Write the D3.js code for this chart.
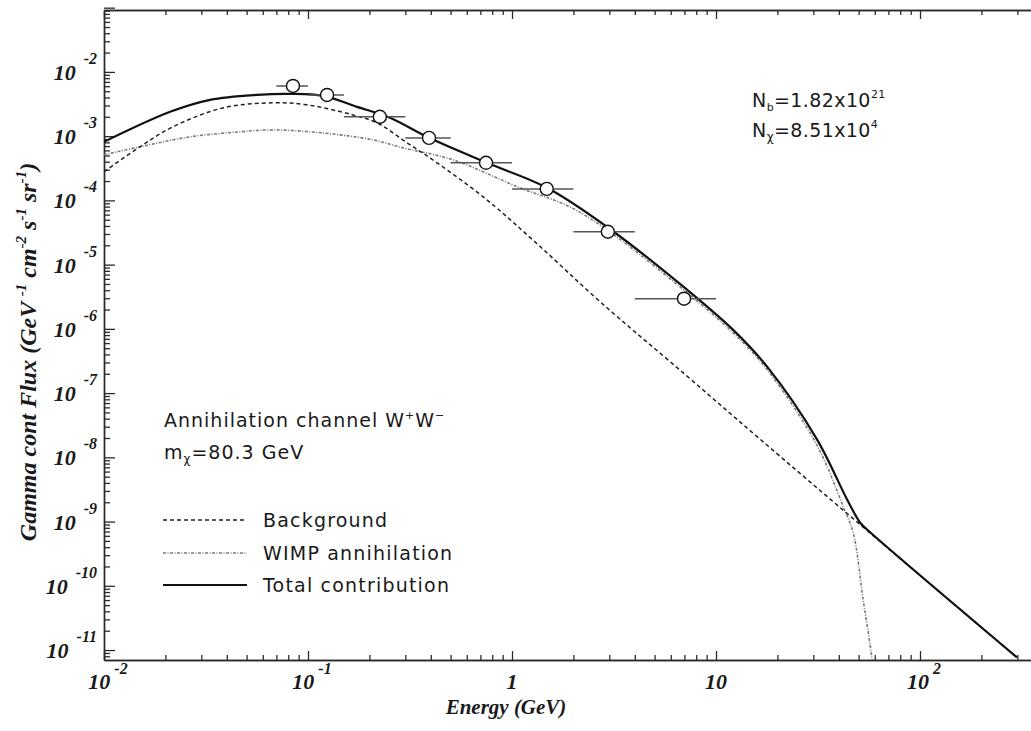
<!DOCTYPE html>
<html>
<head>
<meta charset="utf-8">
<script src="https://cdn.jsdelivr.net/npm/d3@7"></script>
<style>
  body { margin: 0; background: #fff; }
  svg { display: block; }
</style>
</head>
<body>
<div id="chart"></div>
<script>
// Total contribution (solid): energy (GeV), flux
var totalE = [0.01, 0.0211, 0.0331, 0.0562, 0.0817, 0.1186, 0.174, 0.252, 0.392, 0.753, 1.485, 2.96, 7.21, 12.1, 17.8, 31.3, 43.9, 50.8, 55.0, 298.5];
var totalF = [8.15e-4, 2.39e-3, 3.67e-3, 4.39e-3, 4.55e-3, 4.24e-3, 2.86e-3, 1.93e-3, 9.42e-4, 3.85e-4, 1.57e-4, 3.75e-5, 4.07e-6, 9.73e-7, 2.58e-7, 1.89e-8, 2.21e-9, 9.68e-10, 7.53e-10, 7.69e-12];

// Background (dashed)
var bgE = [0.01, 0.015, 0.0218, 0.0383, 0.0673, 0.0988, 0.166, 0.218, 0.306, 0.429, 0.753, 1.327, 2.70, 6.89, 15.9, 54.3, 298.5];
var bgF = [2.79e-4, 6.82e-4, 1.40e-3, 2.75e-3, 3.30e-3, 3.07e-3, 2.14e-3, 1.61e-3, 7.87e-4, 3.85e-4, 1.02e-4, 2.11e-5, 2.65e-6, 2.08e-7, 2.10e-8, 7.53e-10, 7.69e-12];

// WIMP annihilation (dotted)
var wimpE = [0.01, 0.015, 0.0264, 0.0465, 0.0673, 0.1186, 0.208, 0.292, 0.514, 1.094, 1.92, 2.96, 7.21, 12.1, 17.8, 31.3, 42.0, 47.0, 52.6, 58.2, 60];
var wimpF = [5.12e-4, 6.82e-4, 9.75e-4, 1.17e-3, 1.25e-3, 1.12e-3, 8.75e-4, 6.58e-4, 4.28e-4, 1.57e-4, 7.94e-5, 3.37e-5, 3.66e-6, 8.73e-7, 2.32e-7, 1.53e-8, 1.72e-9, 6.76e-10, 6.17e-11, 7.16e-12, 2.5e-12];

// measured points with energy bins
var ptE = [0.0844, 0.124, 0.225, 0.392, 0.746, 1.48, 2.95, 6.97];
var ptF = [6.05e-3, 4.38e-3, 2.0e-3, 9.4e-4, 3.85e-4, 1.51e-4, 3.25e-5, 2.95e-6];
var ptLo = [0.07, 0.1, 0.15, 0.3, 0.5, 1, 2, 4];
var ptHi = [0.1, 0.15, 0.3, 0.5, 1, 2, 4, 10];

// tick labels
var xTickVals = [0.01, 0.1, 1, 10, 100];
var xTickBase = ["10", "10", "1", "10", "10"];
var xTickExp = ["-2", "-1", "", "", "2"];
var yTickExp = [-2, -3, -4, -5, -6, -7, -8, -9, -10, -11];

var width = 1031, height = 731;
var margin = { left: 104, right: 1033.5, top: 10, bottom: 660 };

var svg = d3.select("#chart").append("svg")
    .attr("width", width)
    .attr("height", height);

var x = d3.scaleLog().domain([0.01, 360]).range([margin.left, margin.right]);
var y = d3.scaleLog().domain([7e-12, 0.092]).range([margin.bottom, margin.top]);

svg.append("clipPath").attr("id", "plot")
  .append("rect")
    .attr("x", margin.left).attr("y", margin.top)
    .attr("width", margin.right - margin.left).attr("height", margin.bottom - margin.top);

// ticks: majors at decades, minors 2..9
var xMajor = [], xMinor = [];
for (var p = -2; p <= 2; p++) {
  xMajor.push(Math.pow(10, p));
  for (var m = 2; m <= 9; m++) {
    var v = m * Math.pow(10, p);
    if (v < 360) xMinor.push(v);
  }
}
var yMajor = [], yMinor = [];
for (var p = -12; p <= -1; p++) {
  if (p >= -11) yMajor.push(Math.pow(10, p));
  for (var m = 2; m <= 9; m++) {
    var v = m * Math.pow(10, p);
    if (v > 7e-12 && v < 0.092) yMinor.push(v);
  }
}

var axisColor = "#2a2a2a";
function styleAxis(g) {
  g.select(".domain").attr("stroke", axisColor).attr("stroke-width", 1.4);
  g.selectAll(".tick line").attr("stroke", axisColor).attr("stroke-width", 1.3);
  g.selectAll(".tick text").remove();
}

svg.append("g").attr("transform", "translate(0," + margin.bottom + ")")
  .call(d3.axisBottom(x).tickValues(xMajor).tickSize(-9).tickSizeOuter(0)).call(styleAxis);
svg.append("g").attr("transform", "translate(0," + margin.bottom + ")")
  .call(d3.axisBottom(x).tickValues(xMinor).tickSize(-5).tickSizeOuter(0)).call(styleAxis);
svg.append("g").attr("transform", "translate(0," + margin.top + ")")
  .call(d3.axisTop(x).tickValues(xMajor).tickSize(-9).tickSizeOuter(0)).call(styleAxis);
svg.append("g").attr("transform", "translate(0," + margin.top + ")")
  .call(d3.axisTop(x).tickValues(xMinor).tickSize(-5).tickSizeOuter(0)).call(styleAxis);
svg.append("g").attr("transform", "translate(" + margin.left + ",0)")
  .call(d3.axisLeft(y).tickValues(yMajor).tickSize(-11).tickSizeOuter(0)).call(styleAxis);
svg.append("g").attr("transform", "translate(" + margin.left + ",0)")
  .call(d3.axisLeft(y).tickValues(yMinor).tickSize(-6).tickSizeOuter(0)).call(styleAxis);

// tick labels with superscripts
var labelFont = "'Liberation Serif', 'Times New Roman', serif";

var xl = svg.append("g").attr("font-family", labelFont)
    .attr("font-style", "italic").attr("font-weight", "bold").attr("fill", "#1a1a1a");
xTickVals.forEach(function (v, i) {
  var t = xl.append("text")
      .attr("x", x(v) + (xTickExp[i] ? 4 : 0))
      .attr("y", 689)
      .attr("text-anchor", "middle");
  t.append("tspan").attr("font-size", 22).text(xTickBase[i]);
  if (xTickExp[i]) {
    t.append("tspan").attr("font-size", 16).attr("dx", 4).attr("dy", -15).text(xTickExp[i]);
  }
});

var yl = svg.append("g").attr("font-family", labelFont)
    .attr("font-style", "italic").attr("font-weight", "bold").attr("fill", "#1a1a1a");
yTickExp.forEach(function (e) {
  var t = yl.append("text")
      .attr("x", 97)
      .attr("y", y(Math.pow(10, e)) + 8)
      .attr("text-anchor", "end");
  t.append("tspan").attr("font-size", 22).text("10");
  t.append("tspan").attr("font-size", 16).attr("dx", 8).attr("dy", -16).text(e);
});

// axis titles
svg.append("text")
    .attr("x", 506).attr("y", 714)
    .attr("text-anchor", "middle")
    .attr("font-family", labelFont).attr("font-style", "italic").attr("font-weight", "bold")
    .attr("font-size", 21).attr("fill", "#1a1a1a")
    .text("Energy (GeV)");

var yt = svg.append("text")
    .attr("transform", "translate(36,352) rotate(-90)")
    .attr("text-anchor", "middle")
    .attr("font-family", labelFont).attr("font-style", "italic").attr("font-weight", "bold")
    .attr("font-size", 24).attr("fill", "#1a1a1a");
yt.append("tspan").text("Gamma cont Flux (GeV ");
yt.append("tspan").attr("font-size", 15).attr("dy", -10).text("-1");
yt.append("tspan").attr("dy", 10).text(" cm");
yt.append("tspan").attr("font-size", 15).attr("dy", -10).text("-2");
yt.append("tspan").attr("dy", 10).text(" s");
yt.append("tspan").attr("font-size", 15).attr("dy", -10).text("-1");
yt.append("tspan").attr("dy", 10).text(" sr");
yt.append("tspan").attr("font-size", 15).attr("dy", -10).text("-1");
yt.append("tspan").attr("dy", 10).text(")");

// curves
var line = d3.line()
    .x(function (d) { return x(d[0]); })
    .y(function (d) { return y(d[1]); })
    .curve(d3.curveCatmullRom.alpha(0.5));

var plot = svg.append("g").attr("clip-path", "url(#plot)");

plot.append("path")
    .datum(d3.zip(wimpE, wimpF))
    .attr("d", line)
    .attr("fill", "none")
    .attr("stroke", "#7a7a7a")
    .attr("stroke-width", 1.6)
    .attr("stroke-dasharray", "3,1.5,1,1.5");

plot.append("path")
    .datum(d3.zip(bgE, bgF))
    .attr("d", line)
    .attr("fill", "none")
    .attr("stroke", "#222")
    .attr("stroke-width", 1.5)
    .attr("stroke-dasharray", "4,3");

plot.append("path")
    .datum(d3.zip(totalE, totalF))
    .attr("d", line)
    .attr("fill", "none")
    .attr("stroke", "#111")
    .attr("stroke-width", 2.2);

// error bars and circles
var pts = d3.range(ptE.length).map(function (i) {
  return { e: ptE[i], f: ptF[i], lo: ptLo[i], hi: ptHi[i] };
});

plot.selectAll(".err")
  .data(pts)
  .enter().append("line")
    .attr("class", "err")
    .attr("x1", function (d) { return x(d.lo); })
    .attr("x2", function (d) { return x(d.hi); })
    .attr("y1", function (d) { return y(d.f); })
    .attr("y2", function (d) { return y(d.f); })
    .attr("stroke", "#555")
    .attr("stroke-width", 1.5);

plot.selectAll(".pt")
  .data(pts)
  .enter().append("circle")
    .attr("class", "pt")
    .attr("cx", function (d) { return x(d.e); })
    .attr("cy", function (d) { return y(d.f); })
    .attr("r", 6.5)
    .attr("fill", "#fff")
    .attr("stroke", "#111")
    .attr("stroke-width", 1.4);

// annotations
var sans = "'DejaVu Sans', 'Liberation Sans', sans-serif";

var n1 = svg.append("text").attr("x", 752).attr("y", 107)
    .attr("font-family", sans).attr("font-size", 19).attr("letter-spacing", 0.4)
    .attr("fill", "#1a1a1a");
n1.append("tspan").text("N");
n1.append("tspan").attr("font-size", 11).attr("dy", 4).text("b");
n1.append("tspan").attr("dy", -4).text("=1.82x10");
n1.append("tspan").attr("font-size", 11).attr("dy", -9).text("21");

var n2 = svg.append("text").attr("x", 752).attr("y", 137)
    .attr("font-family", sans).attr("font-size", 19).attr("letter-spacing", 0.4)
    .attr("fill", "#1a1a1a");
n2.append("tspan").text("N");
n2.append("tspan").attr("font-size", 12).attr("dy", 4).text("χ");
n2.append("tspan").attr("dy", -4).text("=8.51x10");
n2.append("tspan").attr("font-size", 11).attr("dy", -9).text("4");

var a1 = svg.append("text").attr("x", 164).attr("y", 427)
    .attr("font-family", sans).attr("font-size", 19).attr("letter-spacing", 1)
    .attr("fill", "#1a1a1a");
a1.append("tspan").text("Annihilation channel W");
a1.append("tspan").attr("font-size", 11).attr("dy", -8).text("+");
a1.append("tspan").attr("dy", 8).text("W");
a1.append("tspan").attr("font-size", 11).attr("dy", -8).text("−");

var a2 = svg.append("text").attr("x", 164).attr("y", 459)
    .attr("font-family", sans).attr("font-size", 19).attr("letter-spacing", 1)
    .attr("fill", "#1a1a1a");
a2.append("tspan").text("m");
a2.append("tspan").attr("font-size", 12).attr("dy", 4).text("χ");
a2.append("tspan").attr("dy", -4).text("=80.3 GeV");

// legend
var legNames = ["Background", "WIMP annihilation", "Total contribution"];
var legDash = ["4,3", "3,1.5,1,1.5", null];
var legColor = ["#222", "#7a7a7a", "#111"];
var legWidth = [1.5, 1.6, 2.2];
var legY = [520, 553, 585];

legNames.forEach(function (name, i) {
  svg.append("line")
      .attr("x1", 163).attr("x2", 247)
      .attr("y1", legY[i]).attr("y2", legY[i])
      .attr("stroke", legColor[i])
      .attr("stroke-width", legWidth[i])
      .attr("stroke-dasharray", legDash[i]);
  svg.append("text")
      .attr("x", 263).attr("y", legY[i] + 7)
      .attr("font-family", sans).attr("font-size", 19)
      .attr("letter-spacing", 1.2)
      .attr("fill", "#1a1a1a")
      .text(name);
});
</script>
</body>
</html>
